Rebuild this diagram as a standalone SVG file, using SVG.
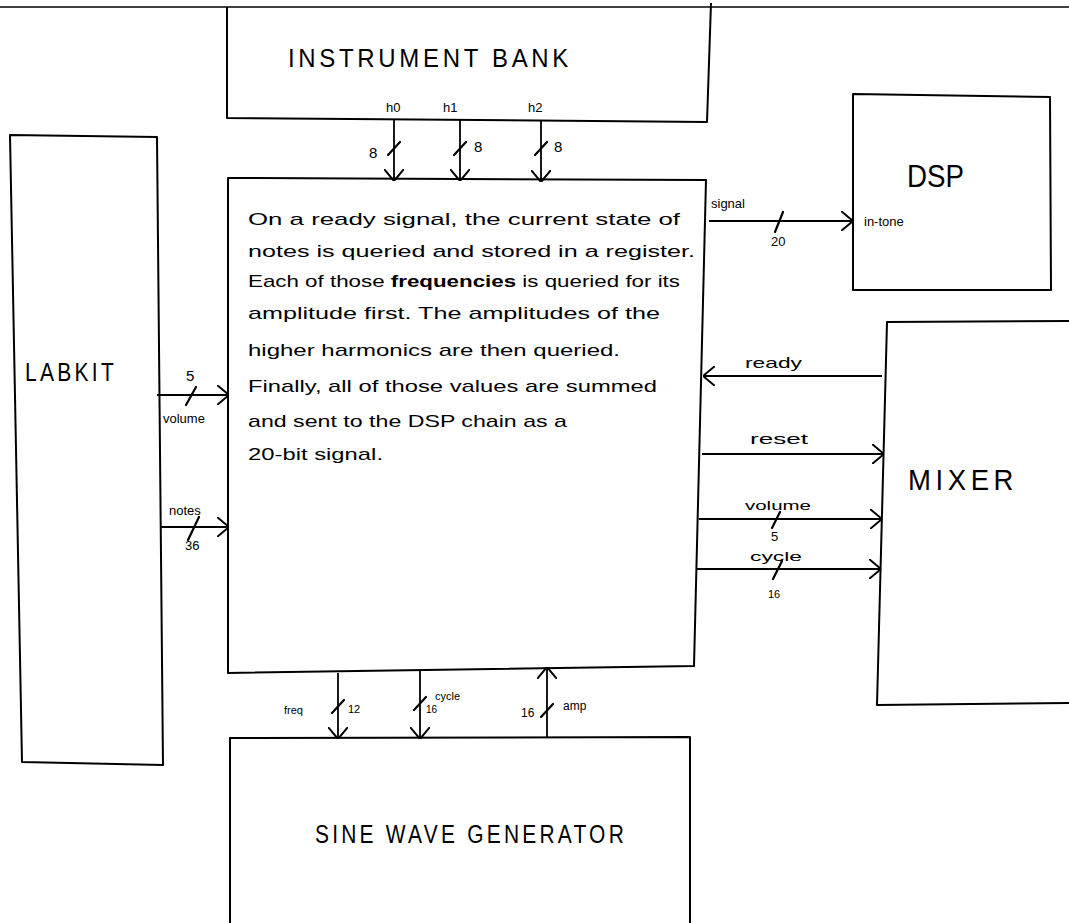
<svg xmlns="http://www.w3.org/2000/svg" width="1069" height="923" viewBox="0 0 1069 923">
<style>
.box{fill:none;stroke:#000;stroke-width:2;stroke-linejoin:round}
.ln{fill:none;stroke:#000;stroke-width:1.8}
.sl{fill:none;stroke:#000;stroke-width:2.2;stroke-linecap:round}
.t{font-family:"Liberation Sans",Arial,sans-serif;fill:#000}
.big{font-size:26px;letter-spacing:4px}
.lab{font-size:13px}
.body{font-size:17px}
</style>
<defs>
<marker id="arr" viewBox="0 0 12 20" refX="12" refY="10" markerWidth="12" markerHeight="20" markerUnits="userSpaceOnUse" orient="auto">
<path d="M0,0 L12,10 L0,20" fill="none" stroke="#000" stroke-width="2"/>
</marker>
</defs>
<rect width="1069" height="923" fill="#fff"/>
<line x1="0" y1="7" x2="1069" y2="7" stroke="#000" stroke-width="1.5"/>

<g id="instrument-bank">
<path class="box" d="M227,7 L227,118 L707,122 L711,3"/>
<text class="t big" x="288" y="67" textLength="284" lengthAdjust="spacingAndGlyphs">INSTRUMENT  BANK</text>
</g>

<g id="main">
<path class="box" d="M228,178 L706,180 L694,666 L228,673 Z"/>
<text class="t body" x="248" y="225" textLength="432" lengthAdjust="spacingAndGlyphs">On a ready signal, the current state of</text>
<text class="t body" x="248" y="257" textLength="447" lengthAdjust="spacingAndGlyphs">notes is queried and stored in a register.</text>
<text class="t body" x="248" y="287" textLength="432" lengthAdjust="spacingAndGlyphs">Each of those <tspan font-weight="bold">frequencies</tspan> is queried for its</text>
<text class="t body" x="248" y="319" textLength="412" lengthAdjust="spacingAndGlyphs">amplitude first.  The amplitudes of the</text>
<text class="t body" x="248" y="356" textLength="372" lengthAdjust="spacingAndGlyphs">higher harmonics  are then  queried.</text>
<text class="t body" x="248" y="392" textLength="409" lengthAdjust="spacingAndGlyphs">Finally, all of those  values are summed</text>
<text class="t body" x="248" y="427" textLength="319" lengthAdjust="spacingAndGlyphs">and sent to the DSP chain as a</text>
<text class="t body" x="248" y="460" textLength="135" lengthAdjust="spacingAndGlyphs">20-bit signal.</text>
</g>

<g id="labkit">
<path class="box" d="M10,135 L157,137 L163,765 L22,762 Z"/>
<text class="t big" x="25" y="381" textLength="92" lengthAdjust="spacingAndGlyphs">LABKIT</text>
</g>

<g id="dsp">
<path class="box" d="M853,94 L1050,97 L1051,290 L853,290 Z"/>
<text class="t" x="907" y="187" font-size="32" textLength="57" lengthAdjust="spacingAndGlyphs">DSP</text>
<text class="t lab" x="864" y="226">in-tone</text>
</g>

<g id="mixer">
<path class="box" d="M1069,321 L887,322 L877,705 L1069,703"/>
<text class="t" x="908" y="490" font-size="30" letter-spacing="5" textLength="110" lengthAdjust="spacingAndGlyphs">MIXER</text>
</g>

<g id="sine-wave-generator">
<path class="box" d="M230,923 L230,738 L690,737 L690,923"/>
<text class="t big" x="315" y="843" textLength="312" lengthAdjust="spacingAndGlyphs">SINE WAVE GENERATOR</text>
</g>

<g id="connectors">
<!-- instrument bank to main -->
<line class="ln" x1="394" y1="120" x2="394" y2="181" marker-end="url(#arr)"/>
<line class="sl" x1="388" y1="155" x2="400" y2="142"/>
<text class="t lab" x="386" y="112">h0</text>
<text class="t" x="369" y="158" font-size="15">8</text>
<line class="ln" x1="460" y1="120" x2="460" y2="181" marker-end="url(#arr)"/>
<line class="sl" x1="454" y1="155" x2="466" y2="142"/>
<text class="t lab" x="443" y="112">h1</text>
<text class="t" x="474" y="152" font-size="15">8</text>
<line class="ln" x1="541" y1="121" x2="541" y2="182" marker-end="url(#arr)"/>
<line class="sl" x1="535" y1="155" x2="547" y2="142"/>
<text class="t lab" x="528" y="112">h2</text>
<text class="t" x="554" y="152" font-size="15">8</text>

<!-- main to dsp -->
<line class="ln" x1="709" y1="221" x2="853" y2="221" marker-end="url(#arr)"/>
<line class="sl" x1="775" y1="232" x2="783" y2="212"/>
<text class="t lab" x="711" y="208">signal</text>
<text class="t lab" x="771" y="246">20</text>

<!-- labkit to main -->
<line class="ln" x1="157" y1="395" x2="229" y2="395" marker-end="url(#arr)"/>
<line class="sl" x1="186" y1="405" x2="196" y2="387"/>
<text class="t" x="186" y="381" font-size="15">5</text>
<text class="t lab" x="163" y="423">volume</text>
<line class="ln" x1="161" y1="527" x2="229" y2="527" marker-end="url(#arr)"/>
<line class="sl" x1="188" y1="540" x2="199" y2="517"/>
<text class="t lab" x="169" y="515">notes</text>
<text class="t lab" x="185" y="550">36</text>

<!-- mixer / main -->
<line class="ln" x1="882" y1="376" x2="703" y2="376" marker-end="url(#arr)"/>
<text class="t" x="745" y="368" font-size="15" textLength="57" lengthAdjust="spacingAndGlyphs">ready</text>
<line class="ln" x1="702" y1="454" x2="884" y2="454" marker-end="url(#arr)"/>
<text class="t" x="750" y="444" font-size="15" textLength="58" lengthAdjust="spacingAndGlyphs">reset</text>
<line class="ln" x1="699" y1="519" x2="882" y2="519" marker-end="url(#arr)"/>
<line class="sl" x1="772" y1="528" x2="780" y2="512"/>
<text class="t lab" x="745" y="510" textLength="66" lengthAdjust="spacingAndGlyphs">volume</text>
<text class="t lab" x="771" y="541">5</text>
<line class="ln" x1="697" y1="569" x2="881" y2="569" marker-end="url(#arr)"/>
<line class="sl" x1="773" y1="579" x2="782" y2="561"/>
<text class="t lab" x="750" y="561" textLength="52" lengthAdjust="spacingAndGlyphs">cycle</text>
<text class="t" x="768" y="598" font-size="11">16</text>

<!-- main / sine wave generator -->
<line class="ln" x1="338" y1="673" x2="338" y2="739" marker-end="url(#arr)"/>
<line class="sl" x1="332" y1="713" x2="344" y2="700"/>
<text class="t" x="284" y="714" font-size="11">freq</text>
<text class="t" x="348" y="713" font-size="11">12</text>
<line class="ln" x1="420" y1="671" x2="420" y2="739" marker-end="url(#arr)"/>
<line class="sl" x1="414" y1="710" x2="426" y2="697"/>
<text class="t" x="426" y="713" font-size="10">16</text>
<text class="t" x="435" y="700" font-size="11">cycle</text>
<line class="ln" x1="547" y1="738" x2="547" y2="667" marker-end="url(#arr)"/>
<line class="sl" x1="541" y1="717" x2="553" y2="704"/>
<text class="t" x="521" y="717" font-size="12">16</text>
<text class="t" x="563" y="710" font-size="12">amp</text>
</g>
</svg>
